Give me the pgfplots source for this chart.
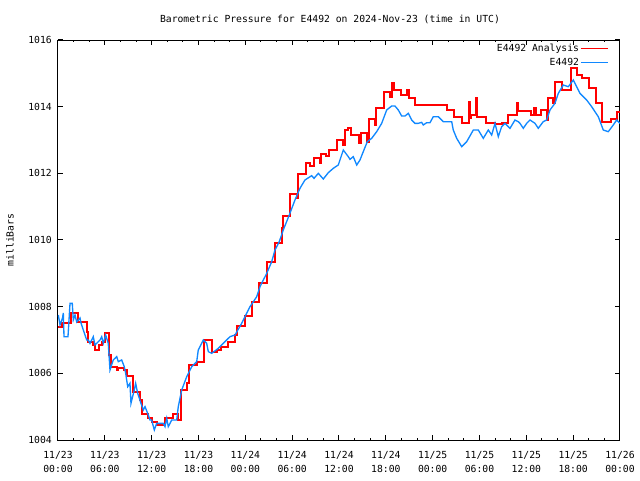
\documentclass[border=0pt]{standalone}
\usepackage{fontspec}
\setmainfont{DejaVu Sans Mono}
\usepackage{pgfplots}
\pgfplotsset{compat=1.18}
\definecolor{anared}{RGB}{255,0,0}
\definecolor{obsblue}{RGB}{16,136,255}
\begin{document}
\begin{tikzpicture}
\path[use as bounding box] (0,0) rectangle (480pt,360pt);
\begin{axis}[
  at={(43.5pt,30pt)}, anchor=south west,
  scale only axis, width=421.5pt, height=300pt,
  xmin=0, xmax=72, ymin=1004, ymax=1016,
  xtick={0,6,...,72},
  xticklabels={11/23\\00:00,11/23\\06:00,11/23\\12:00,11/23\\18:00,11/24\\00:00,11/24\\06:00,11/24\\12:00,11/24\\18:00,11/25\\00:00,11/25\\06:00,11/25\\12:00,11/25\\18:00,11/26\\00:00},
  minor x tick num=2,
  ytick={1004,1006,...,1016},
  yticklabels={1004,1006,1008,1010,1012,1014,1016},
  tick align=inside,
  major tick length=3.5pt, minor tick length=1.75pt,
  axis line style={line width=0.75pt},
  every tick/.style={black, line width=0.75pt},
  font=\fontsize{7.3}{10.5}\selectfont,
  xticklabel style={align=center, inner sep=0pt, yshift=-8pt},
  yticklabel style={inner sep=0pt, xshift=-4.5pt},
  title={Barometric Pressure for E4492 on 2024-Nov-23 (time in UTC)},
  title style={at={(0.484,1)}, anchor=center, yshift=9.75pt, inner sep=0pt},
  ylabel={milliBars},
  ylabel style={at={(axis description cs:-0.0854,0.5)}, anchor=center, inner sep=0pt},
  no markers,
  legend style={draw=none, fill=none, at={(1,1)}, anchor=north east, xshift=-8.25pt, yshift=-1.9pt, inner sep=0pt, outer sep=0pt, row sep=1.5pt, nodes={inner sep=1pt, text height=5.5pt, text depth=1.5pt}, font=\fontsize{7.3}{10.5}\selectfont},
  legend cell align=right,
  legend plot pos=right,
  legend image code/.code={\draw[#1, line width=1pt] plot coordinates {(2pt,0pt) (22.5pt,0pt)};},
]
\addplot[anared, line width=1.4pt, const plot] coordinates {
(0,1007.38) (0.55,1007.50) (1.63,1007.80) (2.60,1007.53) (3.68,1007.25) (3.88,1006.95) (4.52,1006.85) (4.74,1006.70) (5.29,1006.85) (5.60,1006.95) (6.02,1007.22) (6.57,1006.55) (6.75,1006.18) (7.52,1006.10) (7.73,1006.15) (8.46,1006.10) (8.80,1005.93) (9.65,1005.45) (10.54,1005.20) (10.72,1004.78) (11.57,1004.65) (12.04,1004.55) (12.68,1004.45) (13.71,1004.65) (14.77,1004.78) (15.37,1004.60) (15.76,1005.50) (16.49,1005.70) (16.78,1006.25) (17.77,1006.35) (18.70,1007.00) (19.69,1006.65) (20.33,1006.70) (20.88,1006.78) (21.82,1006.95) (22.68,1007.15) (22.89,1007.42) (23.96,1007.72) (24.82,1008.15) (25.75,1008.70) (26.78,1009.33) (27.76,1009.92) (28.66,1010.35) (28.79,1010.73) (29.72,1011.37) (30.58,1011.25) (30.75,1011.97) (31.73,1012.30) (32.28,1012.22) (32.76,1012.45) (33.57,1012.32) (33.73,1012.58) (34.33,1012.53) (34.76,1012.70) (35.74,1013.00) (36.55,1012.85) (36.77,1013.30) (37.19,1013.35) (37.50,1013.15) (38.56,1012.92) (38.78,1013.20) (39.59,1012.95) (39.80,1013.62) (40.57,1013.45) (40.70,1013.95) (41.73,1014.45) (42.57,1014.30) (42.79,1014.70) (43.05,1014.50) (43.90,1014.35) (44.75,1014.50) (45.01,1014.25) (45.77,1014.05) (49.87,1013.90) (50.73,1013.68) (51.72,1013.52) (52.69,1014.15) (52.82,1013.65) (52.95,1013.75) (53.51,1014.25) (53.72,1013.70) (54.79,1013.50) (55.99,1013.47) (56.84,1013.52) (57.69,1013.75) (58.80,1014.12) (58.93,1013.87) (60.56,1013.75) (61.02,1013.95) (61.24,1013.75) (61.84,1013.90) (62.61,1013.60) (62.74,1014.25) (63.45,1014.10) (63.63,1014.75) (64.61,1014.50) (65.68,1015.15) (66.53,1014.95) (67.17,1014.85) (67.99,1014.55) (68.92,1014.10) (69.69,1013.55) (70.81,1013.62) (71.65,1013.85) (72,1013.85)
};
\addlegendentry{E4492 Analysis}
\addplot[obsblue, line width=1pt] coordinates {
(0.04,1007.75) (0.26,1007.45) (0.58,1007.66) (0.68,1007.81) (0.77,1007.10) (1.28,1007.10) (1.54,1008.10) (1.83,1008.10) (1.96,1007.60) (2.18,1007.75) (2.40,1007.54) (2.82,1007.66) (2.95,1007.51) (3.24,1007.30) (3.68,1007.00) (3.88,1007.00) (4.10,1006.90) (4.32,1007.00) (4.52,1007.10) (4.74,1006.85) (5.16,1006.95) (5.38,1007.00) (5.60,1007.10) (5.80,1006.90) (6.11,1007.15) (6.44,1006.90) (6.66,1006.10) (7.08,1006.40) (7.52,1006.50) (7.73,1006.35) (8.16,1006.40) (8.49,1006.20) (8.67,1006.00) (8.93,1005.60) (9.22,1005.70) (9.35,1005.10) (9.77,1005.50) (9.95,1005.70) (10.21,1005.40) (10.63,1005.10) (10.93,1004.90) (11.15,1005.00) (11.57,1004.75) (11.79,1004.60) (12.00,1004.60) (12.34,1004.30) (12.64,1004.50) (13.07,1004.50) (13.49,1004.50) (13.71,1004.40) (13.93,1004.65) (14.13,1004.40) (14.57,1004.60) (15.21,1004.60) (15.41,1005.00) (15.85,1005.50) (16.49,1005.90) (17.13,1006.20) (17.77,1006.35) (17.97,1006.70) (18.62,1007.00) (19.05,1006.90) (19.26,1006.65) (19.69,1006.60) (20.54,1006.75) (21.18,1006.90) (22.04,1007.10) (22.68,1007.15) (23.53,1007.50) (23.96,1007.70) (24.60,1008.00) (25.46,1008.30) (25.88,1008.60) (26.74,1009.00) (27.38,1009.35) (27.80,1009.70) (28.35,1009.95) (28.86,1010.30) (29.63,1010.75) (30.36,1011.20) (31.00,1011.55) (31.64,1011.80) (32.50,1011.93) (32.80,1011.85) (33.35,1012.00) (33.99,1011.83) (34.63,1012.02) (35.27,1012.15) (35.91,1012.25) (36.55,1012.70) (37.19,1012.50) (37.41,1012.42) (37.83,1012.50) (38.27,1012.25) (38.69,1012.40) (39.11,1012.65) (39.63,1012.95) (40.19,1013.05) (40.83,1013.25) (41.47,1013.50) (42.11,1013.90) (42.75,1014.02) (43.17,1014.02) (43.60,1013.90) (44.03,1013.72) (44.46,1013.72) (44.88,1013.80) (45.31,1013.60) (45.74,1013.50) (46.16,1013.50) (46.59,1013.53) (46.80,1013.45) (47.24,1013.52) (47.66,1013.52) (48.08,1013.70) (48.72,1013.70) (49.36,1013.55) (50.44,1013.55) (50.64,1013.30) (51.08,1013.05) (51.72,1012.80) (52.36,1012.95) (53.21,1013.30) (53.85,1013.30) (54.49,1013.05) (55.13,1013.30) (55.56,1013.15) (55.99,1013.50) (56.41,1013.10) (56.84,1013.40) (57.27,1013.50) (57.91,1013.35) (58.55,1013.60) (58.97,1013.55) (59.19,1013.50) (59.61,1013.35) (60.05,1013.50) (60.47,1013.60) (61.11,1013.50) (61.53,1013.35) (62.17,1013.55) (62.61,1013.60) (63.03,1013.90) (63.67,1014.10) (64.10,1014.40) (64.74,1014.65) (65.38,1014.60) (66.02,1014.80) (66.45,1014.60) (66.88,1014.40) (67.73,1014.20) (68.37,1014.00) (69.22,1013.70) (69.86,1013.30) (70.50,1013.25) (71.14,1013.45) (71.57,1013.60) (72.00,1013.50)
};
\addlegendentry{E4492}
\end{axis}
\end{tikzpicture}
\end{document}
